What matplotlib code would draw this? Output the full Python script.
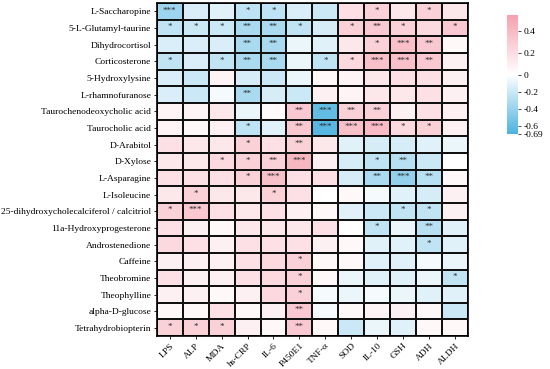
import numpy as np
import matplotlib
matplotlib.use("Agg")
import matplotlib.pyplot as plt
from matplotlib.colors import LinearSegmentedColormap, TwoSlopeNorm

plt.rcParams['font.family'] = ['Liberation Serif', 'DejaVu Serif']

# columns / rows of the correlation table
indices = ["LPS", "ALP", "MDA", "hs-CRP", "IL-6", "P450E1", "TNF-α",
           "SOD", "IL-10", "GSH", "ADH", "ALDH"]
metabolites = ["L-Saccharopine", "5-L-Glutamyl-taurine", "Dihydrocortisol",
               "Corticosterone", "5-Hydroxylysine", "L-rhamnofuranose",
               "Taurochenodeoxycholic acid", "Taurocholic acid", "D-Arabitol",
               "D-Xylose", "L-Asparagine", "L-Isoleucine",
               "25-dihydroxycholecalciferol / calcitriol",
               "11a-Hydroxyprogesterone", "Androstenedione", "Caffeine",
               "Theobromine", "Theophylline", "alpha-D-glucose",
               "Tetrahydrobiopterin"]

corr = [
    [-0.38, -0.15, -0.12, -0.25, -0.25, -0.15, -0.20,  0.18,  0.27,  0.14,  0.27,  0.14],
    [-0.24, -0.20, -0.20, -0.33, -0.33, -0.24, -0.16,  0.27,  0.32,  0.27,  0.22,  0.32],
    [-0.15, -0.15, -0.15, -0.33, -0.33, -0.08, -0.12,  0.14,  0.27,  0.36,  0.32,  0.04],
    [-0.24, -0.15, -0.24, -0.33, -0.33, -0.08, -0.24,  0.22,  0.36,  0.36,  0.32,  0.09],
    [-0.15, -0.20,  0.07, -0.16, -0.20, -0.08,  0.04,  0.07,  0.14,  0.18,  0.18,  0.09],
    [-0.15, -0.20, -0.04, -0.33, -0.16, -0.20,  0.09,  0.07,  0.14,  0.14,  0.18,  0.09],
    [ 0.07,  0.07,  0.14, -0.08,  0.03,  0.32, -0.60,  0.27,  0.27,  0.09,  0.18,  0.09],
    [ 0.07,  0.04,  0.09, -0.25, -0.12,  0.32, -0.65,  0.36,  0.40,  0.22,  0.27,  0.09],
    [ 0.18,  0.14,  0.14,  0.27,  0.18,  0.27,  0.14, -0.12, -0.16, -0.16, -0.12, -0.08],
    [ 0.14,  0.14,  0.22,  0.27,  0.27,  0.42,  0.09, -0.16, -0.24, -0.28, -0.20,  0.00],
    [ 0.18,  0.18,  0.18,  0.27,  0.36,  0.18,  0.18, -0.16, -0.32, -0.42, -0.28,  0.04],
    [ 0.14,  0.27,  0.14,  0.14,  0.27,  0.18,  0.00,  0.04, -0.04, -0.12, -0.16,  0.09],
    [ 0.27,  0.32,  0.18,  0.14,  0.18,  0.09,  0.04, -0.12, -0.20, -0.24, -0.24,  0.09],
    [ 0.18,  0.09,  0.04,  0.14,  0.14,  0.14,  0.18,  0.00, -0.24, -0.08, -0.28, -0.12],
    [ 0.22,  0.18,  0.09,  0.18,  0.18,  0.18,  0.09,  0.04, -0.12, -0.12, -0.24, -0.12],
    [ 0.09,  0.09,  0.09,  0.18,  0.22,  0.27,  0.04,  0.04, -0.12, -0.12, -0.04, -0.08],
    [ 0.18,  0.09,  0.09,  0.18,  0.22,  0.27,  0.04, -0.08, -0.12, -0.12, -0.08, -0.24],
    [ 0.09,  0.09,  0.04,  0.09,  0.22,  0.27, -0.04, -0.08, -0.04, -0.08, -0.12, -0.12],
    [ 0.04,  0.04,  0.18,  0.04,  0.09,  0.32, -0.04,  0.04,  0.07,  0.09,  0.04, -0.20],
    [ 0.27,  0.27,  0.27,  0.09,  0.04,  0.32,  0.04, -0.20, -0.08, -0.12,  0.04,  0.04],
]

stars = [
    ["***", "", "", "*", "*", "", "", "", "*", "", "*", ""],
    ["*", "*", "*", "**", "**", "*", "", "*", "**", "*", "", "*"],
    ["", "", "", "**", "**", "", "", "", "*", "***", "**", ""],
    ["*", "", "*", "**", "**", "", "*", "*", "***", "***", "**", ""],
    ["", "", "", "", "", "", "", "", "", "", "", ""],
    ["", "", "", "**", "", "", "", "", "", "", "", ""],
    ["", "", "", "", "", "**", "***", "**", "**", "", "", ""],
    ["", "", "", "*", "", "**", "***", "***", "***", "*", "*", ""],
    ["", "", "", "*", "", "**", "", "", "", "", "", ""],
    ["", "", "*", "*", "**", "***", "", "", "*", "**", "", ""],
    ["", "", "", "*", "***", "", "", "", "**", "***", "**", ""],
    ["", "*", "", "", "*", "", "", "", "", "", "", ""],
    ["*", "***", "", "", "", "", "", "", "", "*", "*", ""],
    ["", "", "", "", "", "", "", "", "*", "", "**", ""],
    ["", "", "", "", "", "", "", "", "", "", "*", ""],
    ["", "", "", "", "", "*", "", "", "", "", "", ""],
    ["", "", "", "", "", "*", "", "", "", "", "", "*"],
    ["", "", "", "", "", "*", "", "", "", "", "", ""],
    ["", "", "", "", "", "**", "", "", "", "", "", ""],
    ["*", "*", "*", "", "", "**", "", "", "", "", "", ""],
]

cmap = LinearSegmentedColormap.from_list("bwp", ["#4DB2E0", "#FFFFFF", "#F5A1AE"])
norm = TwoSlopeNorm(vmin=-0.69, vcenter=0, vmax=0.55)

fig = plt.figure(figsize=(5.5, 3.69), dpi=100)
ax = fig.add_axes([0.285, 0.089, 0.566, 0.903])
data = np.array(corr)
mesh = ax.pcolormesh(data, cmap=cmap, norm=norm, edgecolors="#111111", linewidth=1.2)
ax.set_xlim(0, len(indices))
ax.set_ylim(len(metabolites), 0)
for i in range(len(metabolites)):
    for j in range(len(indices)):
        if stars[i][j]:
            ax.text(j + 0.5, i + 0.45, stars[i][j], ha="center", va="center",
                    fontsize=6.5, color="#2a2a2a")

ax.set_xticks(np.arange(len(indices)) + 0.5)
ax.set_xticklabels(indices, rotation=45, ha="right", rotation_mode="anchor", fontsize=6.8)
ax.set_yticks(np.arange(len(metabolites)) + 0.5)
ax.set_yticklabels(metabolites, fontsize=6.8)
ax.tick_params(length=2.5, width=0.6, pad=1.5)
for s in ax.spines.values():
    s.set_linewidth(1.2)

cax = fig.add_axes([0.922, 0.637, 0.02, 0.322])
cb = fig.colorbar(mesh, cax=cax, ticks=[0.4, 0.2, 0, -0.2, -0.4, -0.6, -0.69])
cb.ax.set_yticklabels(["0.4", "0.2", "0", "-0.2", "-0.4", "-0.6", "-0.69"])
cb.outline.set_visible(False)
cb.ax.tick_params(labelsize=6.8, length=2, width=0.5, pad=2)

fig.savefig("out.png", dpi=100)
